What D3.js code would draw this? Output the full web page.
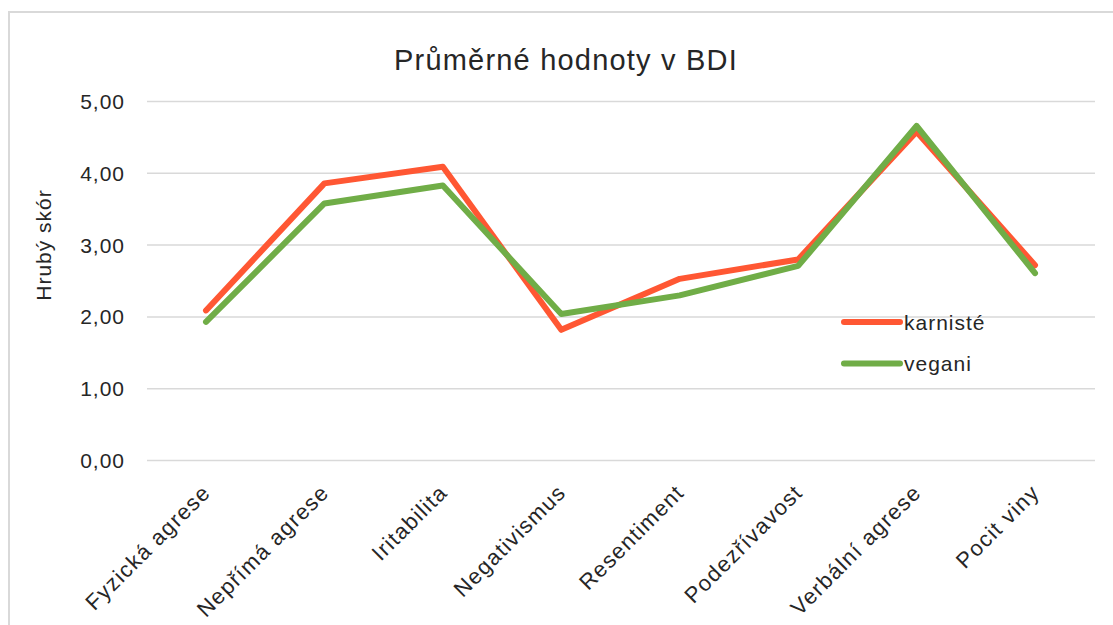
<!DOCTYPE html>
<meta charset="utf-8">
<head>
  <title>Průměrné hodnoty v BDI</title>
</head>

<style>
body { margin: 0; background: white; }
text {
  font-family: "Liberation Sans", Arial, sans-serif;
  fill: #262626;
}
.grid line { stroke: #d9d9d9; stroke-width: 1.5; }
.series { fill: none; stroke-width: 6; stroke-linejoin: round; stroke-linecap: round; }
</style>

<body>
  <svg width="1113" height="625"></svg>

  <script src="https://cdnjs.cloudflare.com/ajax/libs/d3/7.8.5/d3.min.js"></script>
  <script>
var categories = ["Fyzická agrese", "Nepřímá agrese", "Iritabilita", "Negativismus",
                  "Resentiment", "Podezřívavost", "Verbální agrese", "Pocit viny"];
var karniste = [2.09, 3.86, 4.09, 1.82, 2.53, 2.80, 4.58, 2.72];
var vegani = [1.93, 3.58, 3.83, 2.04, 2.30, 2.71, 4.66, 2.61];
var yTicks = [0, 1, 2, 3, 4, 5];

var series = [
  { name: "karnisté", values: karniste, color: "#FF5733" },
  { name: "vegani", values: vegani, color: "#70AD47" }
];

var svg = d3.select("svg");

// chart area frame
svg.append("rect")
  .attr("x", 9).attr("y", 12)
  .attr("width", 1140).attr("height", 700)
  .attr("fill", "white")
  .attr("stroke", "#d9d9d9")
  .attr("stroke-width", 2);

var x = d3.scalePoint()
  .domain(categories)
  .range([206, 1035]);

var y = d3.scaleLinear()
  .domain([0, 5])
  .range([460.5, 101.5]);

// gridlines + tick labels
var grid = svg.append("g").attr("class", "grid");
grid.selectAll("line")
  .data(yTicks)
  .enter().append("line")
  .attr("x1", 147).attr("x2", 1095)
  .attr("y1", function(d) { return y(d); })
  .attr("y2", function(d) { return y(d); });

svg.append("g").selectAll("text")
  .data(yTicks)
  .enter().append("text")
  .attr("x", 125)
  .attr("y", function(d) { return y(d); })
  .attr("dy", "0.36em")
  .attr("text-anchor", "end")
  .style("font-size", "21px")
  .style("letter-spacing", "1px")
  .text(function(d) { return d3.format(".2f")(d).replace(".", ","); });

// category labels
svg.append("g").selectAll("text")
  .data(categories)
  .enter().append("text")
  .attr("transform", function(d) { return "translate(" + (x(d) - 5) + ",483) rotate(-45)"; })
  .attr("text-anchor", "end")
  .attr("dy", "0.7em")
  .style("font-size", "22px")
  .style("letter-spacing", "1.3px")
  .text(function(d) { return d; });

// lines
var line = d3.line()
  .x(function(d, i) { return x(categories[i]); })
  .y(function(d) { return y(d); });

svg.append("g").selectAll("path")
  .data(series)
  .enter().append("path")
  .attr("class", "series")
  .attr("stroke", function(d) { return d.color; })
  .attr("d", function(d) { return line(d.values); });

// title
svg.append("text")
  .attr("x", 566)
  .attr("y", 70)
  .attr("text-anchor", "middle")
  .style("font-size", "29px")
  .style("letter-spacing", "1.2px")
  .text("Průměrné hodnoty v BDI");

// y axis title
svg.append("text")
  .attr("transform", "translate(51,245) rotate(-90)")
  .attr("text-anchor", "middle")
  .style("font-size", "21px")
  .style("letter-spacing", "1px")
  .text("Hrubý skór");

// legend
var legend = svg.append("g").selectAll("g")
  .data(series)
  .enter().append("g")
  .attr("transform", function(d, i) { return "translate(844," + (322 + i * 41.5) + ")"; });

legend.append("line")
  .attr("x1", 0).attr("x2", 56)
  .attr("stroke", function(d) { return d.color; })
  .attr("stroke-width", 6)
  .attr("stroke-linecap", "round");

legend.append("text")
  .attr("x", 60)
  .attr("dy", "0.36em")
  .style("font-size", "21px")
  .style("letter-spacing", "1px")
  .text(function(d) { return d.name; });
  </script>
</body>
</html>
